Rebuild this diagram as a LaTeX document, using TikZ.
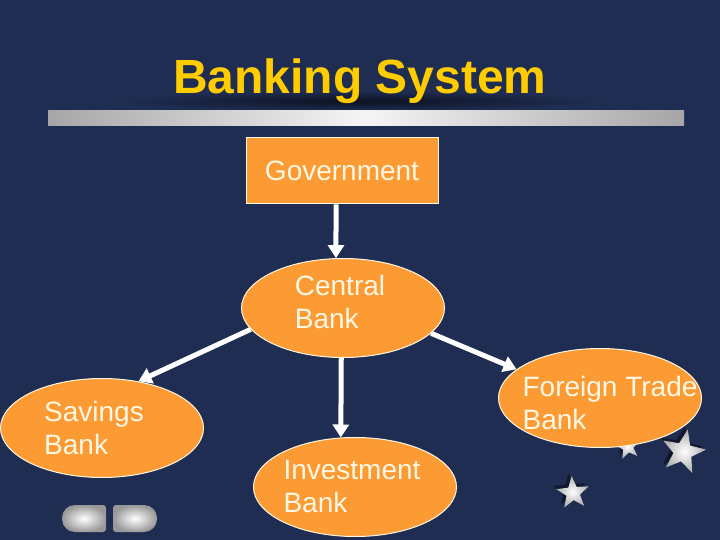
\documentclass[tikz,border=0pt]{standalone}
\usepackage{fontspec}
\setmainfont{Liberation Sans}
\usetikzlibrary{shapes.geometric,arrows.meta,shadows}
\definecolor{slidebg}{RGB}{31,45,82}
\definecolor{bankorange}{RGB}{252,154,52}
\definecolor{titleyellow}{RGB}{255,204,0}
\definecolor{labelcream}{RGB}{255,248,228}

\begin{document}
\begin{tikzpicture}[x=1pt,y=-1pt,
  box/.style={draw=labelcream,line width=1pt,fill=bankorange,text=labelcream,
    font=\fontsize{28}{33}\selectfont,inner sep=0pt},
  bank/.style={box,ellipse,minimum width=203pt,minimum height=99pt},
  banktext/.style={text=labelcream,font=\fontsize{28}{33}\selectfont,
    align=left,inner sep=0pt},
  link/.style={white,line width=5pt,-{Triangle[width=16pt,length=13pt]}},
  deco star/.style={star,star points=5,star point ratio=2.4,inner sep=0pt,
    inner color=white,outer color=gray!65,
    drop shadow={shadow xshift=-3pt,shadow yshift=3pt,fill=black,opacity=.45}}]
\useasboundingbox (0,0) rectangle (720,540);
\fill[slidebg] (0,0) rectangle (720,540);

% title with its shadow and the bar under it
\shade[inner color=black!60!slidebg,outer color=slidebg]
  (360,101) ellipse [x radius=240,y radius=10];
\node[anchor=base,text=titleyellow,font=\fontsize{48}{58}\bfseries\selectfont]
  (title) at (360,94) {Banking System};
\shade[left color=gray!70,right color=gray!70,middle color=white!92!gray]
  (48,111) rectangle (684,126);

% stars, the small one sits behind the foreign trade bank
\node[deco star,minimum size=26pt,rotate=10] (star1) at (628,447) {};
\node[deco star,minimum size=46pt,rotate=-12] (star2) at (683,452) {};
\node[deco star,minimum size=34pt,rotate=5] (star3) at (573,493) {};

\node[box,minimum width=192pt,minimum height=66pt] (gov) at (342,171) {Government};
\node[bank,label={[banktext,xshift=-3pt,yshift=6pt]center:Central\\Bank}]
  (central) at (343,308) {};
\node[bank,label={[banktext,xshift=-8pt]center:Savings\\Bank}]
  (savings) at (102,428) {};
\node[bank,label={[banktext,xshift=-3pt]center:Investment\\Bank}]
  (invest) at (355,487) {};
\node[bank,label={[banktext,xshift=10pt,yshift=-5pt]center:Foreign Trade\\Bank}]
  (foreign) at (600,398) {};

\draw[link] ([xshift=-6pt]gov.south) -- (central.98);
\draw[link] (central.193) -- (savings.52);
\draw[link] (central.268) -- (invest.106);
\draw[link] (central.344) -- (foreign.161);

% the two buttons at the bottom
\shade[inner color=white,outer color=gray!80,rounded corners=3pt]
  (106,505) [rounded corners=13pt] -- (62,505) -- (62,532)
  [rounded corners=3pt] -- (106,532) -- cycle;
\shade[inner color=white,outer color=gray!80,rounded corners=3pt]
  (113,505) [rounded corners=13pt] -- (157,505) -- (157,532)
  [rounded corners=3pt] -- (113,532) -- cycle;
\end{tikzpicture}
\end{document}
